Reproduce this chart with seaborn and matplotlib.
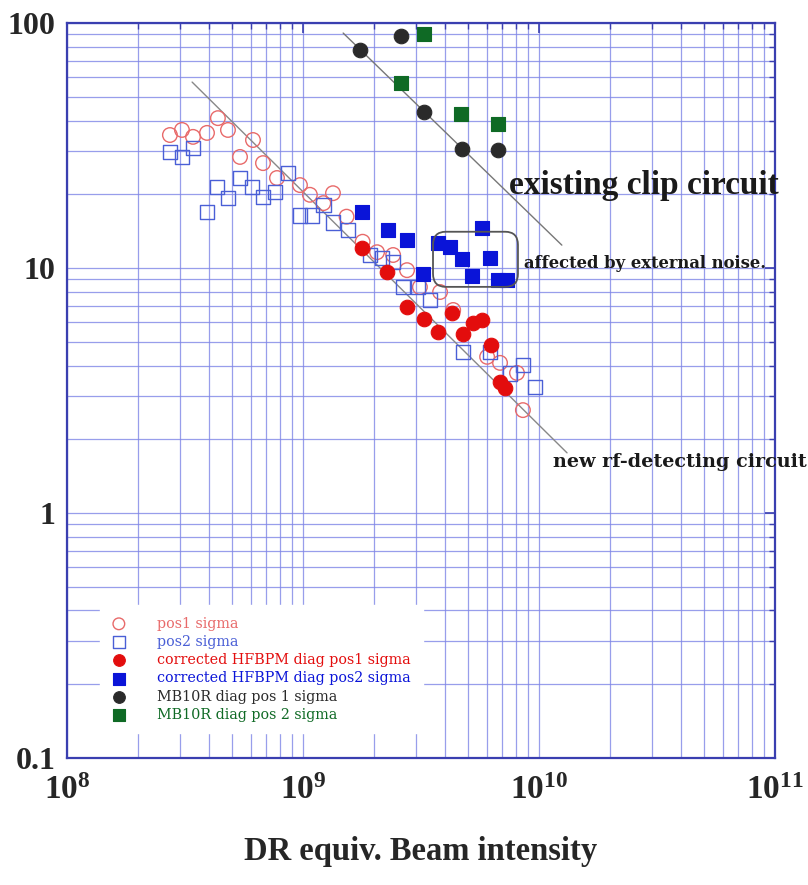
import numpy as np
import pandas as pd
import matplotlib
matplotlib.use("Agg")
import matplotlib.pyplot as plt
import seaborn as sns
from matplotlib.patches import FancyBboxPatch
from matplotlib.ticker import LogLocator, NullFormatter, FixedLocator, FixedFormatter

# ---- measured beam position resolution (sigma, um) vs DR-equivalent intensity ----
pos1_x = [2.73e8, 3.07e8, 3.42e8, 3.92e8, 4.36e8, 4.81e8, 5.41e8, 6.14e8, 6.77e8,
          7.76e8, 9.71e8, 1.07e9, 1.34e9, 1.22e9, 1.53e9, 1.79e9, 2.06e9, 2.41e9,
          2.76e9, 3.13e9, 3.81e9, 4.33e9, 6.03e9, 6.84e9, 8.07e9, 8.55e9]
pos1_y = [34.9, 36.6, 34.3, 35.6, 40.9, 36.6, 28.4, 33.3, 26.8,
          23.3, 21.8, 19.9, 20.2, 18.4, 16.2, 12.8, 11.6, 11.3,
          9.8, 8.36, 7.98, 6.74, 4.34, 4.10, 3.73, 2.63]

pos2_x = [2.73e8, 3.07e8, 3.42e8, 3.92e8, 4.33e8, 4.81e8, 5.41e8, 6.08e8, 6.77e8,
          7.60e8, 8.63e8, 9.71e8, 1.09e9, 1.22e9, 1.34e9, 1.55e9, 1.92e9, 2.16e9,
          2.41e9, 2.65e9, 3.07e9, 3.45e9, 4.76e9, 6.20e9, 7.54e9, 8.55e9, 9.61e9]
pos2_y = [29.7, 28.4, 30.9, 16.9, 21.4, 19.3, 23.3, 21.4, 19.5,
          20.4, 24.4, 16.4, 16.4, 18.1, 15.3, 14.3, 11.3, 11.0,
          10.6, 8.36, 8.36, 7.39, 4.54, 4.54, 3.72, 4.02, 3.27]

corr1_x = [1.78e9, 2.27e9, 2.76e9, 3.26e9, 3.73e9, 4.28e9, 4.76e9, 5.25e9, 5.73e9,
           6.26e9, 6.84e9, 7.18e9]
corr1_y = [12.1, 9.63, 6.93, 6.19, 5.49, 6.55, 5.38, 5.97, 6.14,
           4.86, 3.43, 3.24]

corr2_x = [1.78e9, 2.29e9, 2.76e9, 3.73e9, 4.20e9, 4.72e9, 5.73e9, 6.20e9, 3.22e9,
           5.20e9, 6.70e9, 7.31e9]
corr2_y = [16.9, 14.3, 13.0, 12.6, 12.2, 10.9, 14.6, 11.0, 9.46,
           9.27, 8.93, 8.93]

mb1_x = [1.74e9, 2.60e9, 3.26e9, 4.72e9, 6.70e9]
mb1_y = [77.6, 88.5, 43.3, 30.6, 30.4]

mb2_x = [3.26e9, 2.60e9, 4.66e9, 6.70e9]
mb2_y = [90.2, 56.9, 42.5, 38.7]

# guide lines for the two circuits
clip_line_x = [1.48e9, 1.25e10]
clip_line_y = [91.0, 12.4]
rf_line_x = [3.39e8, 1.315e10]
rf_line_y = [57.4, 1.76]

x_tick_vals = [1e8, 1e9, 1e10, 1e11]
x_tick_text = ["$\\mathbf{10^{8}}$", "$\\mathbf{10^{9}}$", "$\\mathbf{10^{10}}$", "$\\mathbf{10^{11}}$"]
y_tick_vals = [0.1, 1, 10, 100]
y_tick_text = ["0.1", "1", "10", "100"]

series = [
    ("pos1 sigma", pos1_x, pos1_y, "o", "#e86a6a", False),
    ("pos2 sigma", pos2_x, pos2_y, "s", "#4a5fd6", False),
    ("corrected HFBPM diag pos1 sigma", corr1_x, corr1_y, "o", "#e30d0d", True),
    ("corrected HFBPM diag pos2 sigma", corr2_x, corr2_y, "s", "#0a14d8", True),
    ("MB10R diag pos 1 sigma", mb1_x, mb1_y, "o", "#2a2a2a", True),
    ("MB10R diag pos 2 sigma", mb2_x, mb2_y, "s", "#0f6a25", True),
]

sns.set_style("white")
plt.rcParams["font.family"] = ["Liberation Serif", "DejaVu Serif"]
plt.rcParams["mathtext.fontset"] = "custom"
plt.rcParams["mathtext.rm"] = "Liberation Serif"
plt.rcParams["mathtext.bf"] = "Liberation Serif:bold"

fig = plt.figure(figsize=(8.08, 8.85), dpi=100)
ax = fig.add_axes([0.0829, 0.1435, 0.8762, 0.8305])
ax.set_xscale("log")
ax.set_yscale("log")
ax.set_xlim(1e8, 1e11)
ax.set_ylim(0.1, 100)

# grid at every decade and sub-decade
grid_c = "#7f86e6"
ax.xaxis.set_minor_locator(LogLocator(base=10, subs=np.arange(2, 10)))
ax.yaxis.set_minor_locator(LogLocator(base=10, subs=np.arange(2, 10)))
ax.grid(True, which="both", color=grid_c, lw=0.9, alpha=0.8)
ax.set_axisbelow(True)

# guide lines
sns.lineplot(x=rf_line_x, y=rf_line_y, ax=ax, color="#888888", lw=1.0, zorder=2)
sns.lineplot(x=clip_line_x, y=clip_line_y, ax=ax, color="#777777", lw=1.0, zorder=2)

for label, xs, ys, mk, col, filled in series:
    df = pd.DataFrame({"x": xs, "y": ys})
    if filled:
        sns.scatterplot(data=df, x="x", y="y", ax=ax, marker=mk, s=110,
                        color=col, edgecolor=col, linewidth=0.8, label=label, zorder=3)
    else:
        sns.scatterplot(data=df, x="x", y="y", ax=ax, marker=mk, s=110,
                        facecolor="none", edgecolor=col, linewidth=1.0, label=label, zorder=3)

# frame and ticks
for sp in ax.spines.values():
    sp.set_color("#3a3fb0")
    sp.set_linewidth(1.6)
ax.tick_params(which="both", direction="in", top=True, right=True, color="#3a3fb0")
ax.tick_params(which="major", length=7, width=1.2)
ax.tick_params(which="minor", length=4, width=1.0)
ax.xaxis.set_major_locator(FixedLocator(x_tick_vals))
ax.xaxis.set_major_formatter(FixedFormatter(x_tick_text))
ax.yaxis.set_major_locator(FixedLocator(y_tick_vals))
ax.yaxis.set_major_formatter(FixedFormatter(y_tick_text))
ax.xaxis.set_minor_formatter(NullFormatter())
ax.yaxis.set_minor_formatter(NullFormatter())
for t in ax.get_xticklabels():
    t.set_fontsize(24)
    t.set_fontweight("bold")
for t in ax.get_yticklabels():
    t.set_fontsize(23)
    t.set_fontweight("bold")
ax.tick_params(axis="x", pad=12)
ax.tick_params(axis="y", pad=8)

ax.set_xlabel("DR equiv. Beam intensity", fontsize=23.5, fontweight="bold", labelpad=22)
ax.set_ylabel("")

# annotations
ax.text(7.5e9, 21.8, "existing clip circuit", fontsize=24, fontweight="bold",
        va="center", ha="left", color="#1a1a1a", zorder=5)
ax.text(8.6e9, 10.4, "affected by external noise.", fontsize=11.8, fontweight="bold",
        family="DejaVu Serif", va="center", ha="left", color="#1a1a1a", zorder=5)
ax.text(1.15e10, 1.62, "new rf-detecting circuit", fontsize=13.8, fontweight="bold",
        family="DejaVu Serif", va="center", ha="left", color="#1a1a1a", zorder=5,
        clip_on=False)
box = FancyBboxPatch((0.517, 0.641), 0.12, 0.075, transform=ax.transAxes,
                     boxstyle="round,pad=0,rounding_size=0.018",
                     fill=False, edgecolor="#555555", lw=1.3, zorder=4)
ax.add_patch(box)

leg = ax.legend(loc="upper left", bbox_to_anchor=(0.047, 0.208),
                prop={"family": "DejaVu Serif", "size": 10.3},
                frameon=True, fancybox=False, borderpad=0.8, labelspacing=0.3,
                handlelength=1.0, handletextpad=2.2, markerscale=0.8, borderaxespad=0)
leg.get_frame().set_edgecolor("white")
leg.get_frame().set_facecolor("white")
leg.get_frame().set_alpha(1.0)
for txt, s in zip(leg.get_texts(), series):
    txt.set_color(s[4])

fig.savefig("out.png", dpi=100)
